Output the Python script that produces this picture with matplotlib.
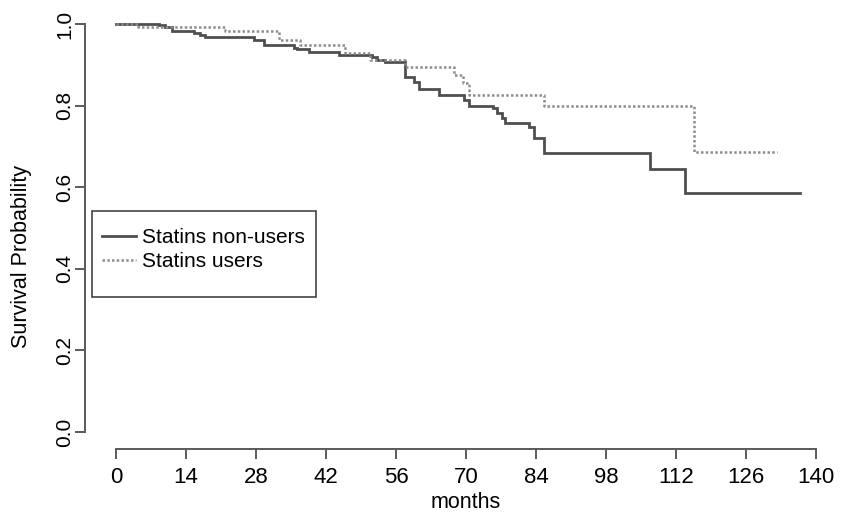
import matplotlib
matplotlib.use("Agg")
import matplotlib.pyplot as plt
from matplotlib.patches import Rectangle

plt.rcParams['font.family'] = ['Liberation Sans', 'DejaVu Sans']

# Kaplan-Meier step data (time in months, survival probability)
t_non = [0, 8.5, 9.8, 11.1, 15.5, 16.8, 17.8, 27.5, 29.5, 35.5, 36.1, 38.5, 44.5,
         51.1, 52.1, 53.8, 57.8, 59.5, 60.5, 64.5, 69.5, 70.5, 75.4, 76.1, 77.1,
         77.8, 82.5, 83.5, 85.5, 106.7, 113.8, 136.8]
s_non = [1.0, 0.997, 0.992, 0.984, 0.977, 0.972, 0.967, 0.961, 0.949, 0.941,
         0.938, 0.932, 0.924, 0.918, 0.913, 0.908, 0.869, 0.859, 0.840, 0.826,
         0.814, 0.800, 0.793, 0.781, 0.769, 0.758, 0.748, 0.720, 0.683, 0.645,
         0.585, 0.585]

t_users = [0, 4.4, 21.8, 32.5, 36.8, 45.8, 50.8, 57.8, 67.5, 69.3, 70.5, 85.5,
           115.6, 132.1]
s_users = [1.0, 0.992, 0.984, 0.961, 0.949, 0.928, 0.912, 0.894, 0.875, 0.855,
           0.826, 0.800, 0.687, 0.687]

labels = ["Statins non-users", "Statins users"]
x_ticks = [0, 14, 28, 42, 56, 70, 84, 98, 112, 126, 140]
y_ticks = [0.0, 0.2, 0.4, 0.6, 0.8, 1.0]

W, H = 841, 514
fig = plt.figure(figsize=(W / 100, H / 100), dpi=100)
left_px, right_px, bottom_px, top_px = 85, 836, 449, 7.7
ax = fig.add_axes([left_px / W, 1 - bottom_px / H,
                   (right_px - left_px) / W, (bottom_px - top_px) / H])

axis_col = '#5a5a5a'
l1, = ax.step(t_non, s_non, where='post', color='#4f4f4f', lw=2.0,
              solid_joinstyle='miter')
l2, = ax.step(t_users, s_users, where='post', color='#8c8c8c', lw=1.8,
              linestyle=(0, (1.0, 0.9)), dash_capstyle='butt')

ax.set_xlim(-6.2, 144)
ax.set_ylim(-0.0417, 1.04)

for s in ['top', 'right']:
    ax.spines[s].set_visible(False)
ax.spines['left'].set_bounds(0, 1)
ax.spines['bottom'].set_bounds(0, 140)
for s in ['left', 'bottom']:
    ax.spines[s].set_color(axis_col)
    ax.spines[s].set_linewidth(1.4)

ax.set_xticks(x_ticks)
ax.set_xticklabels([str(v) for v in x_ticks])
ax.set_yticks(y_ticks)
ax.set_yticklabels([f"{v:.1f}" for v in y_ticks], rotation=90, va='center')
ax.tick_params(axis='x', length=7, width=1.4, color=axis_col, labelsize=16, pad=6)
ax.tick_params(axis='y', length=7, width=1.4, color=axis_col, labelsize=15, pad=1)

ax.set_ylabel("Survival Probability", fontsize=15.5)
ax.yaxis.set_label_coords((22 - left_px) / (right_px - left_px),
                          (bottom_px - 256) / (bottom_px - top_px))
ax.yaxis.label.set_va('center')
ax.set_xlabel("months", fontsize=15.5)
ax.xaxis.set_label_coords((466 - left_px) / (right_px - left_px),
                          (bottom_px - 503) / (bottom_px - top_px))
ax.xaxis.label.set_va('center')

# legend frame
rect = Rectangle((92 / W, 1 - 297 / H), 224 / W, 86 / H, transform=fig.transFigure,
                 facecolor='white', edgecolor='#444444', lw=1.2, zorder=4,
                 clip_on=False)
ax.add_patch(rect)
leg = ax.legend([l1, l2], labels, frameon=False, fontsize=15, loc='upper left',
                bbox_to_anchor=(102 / W, 1 - 228 / H), bbox_transform=fig.transFigure,
                borderpad=0, borderaxespad=0, labelspacing=0.25,
                handlelength=1.63, handletextpad=0.3)
leg.set_zorder(6)

fig.savefig("out.png", dpi=100)
